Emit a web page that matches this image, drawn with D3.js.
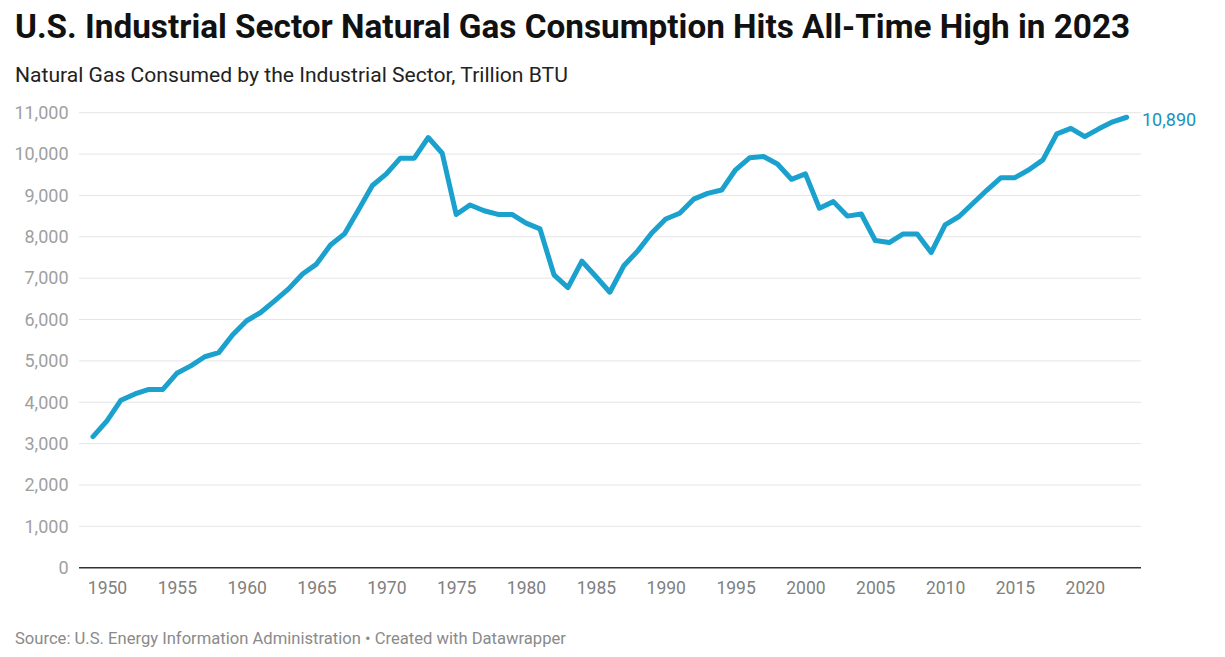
<!DOCTYPE html>
<html>
<head>
<meta charset="utf-8">
<script src="https://cdn.jsdelivr.net/npm/d3@7"></script>
<style>
  body { margin: 0; background: #fff; font-family: Roboto, "Noto Sans", sans-serif; }
</style>
</head>
<body>
<div id="chart"></div>
<script>
// natural gas consumed by the industrial sector, trillion btu
const years = d3.range(1949, 2024);
const values = [
  3170, 3550, 4050, 4200, 4310, 4310, 4700, 4880, 5100, 5200,
  5630, 5970, 6170, 6450, 6740, 7100, 7340, 7800, 8070, 8650,
  9240, 9520, 9900, 9900, 10400, 10020, 8540, 8770, 8630, 8540,
  8540, 8330, 8190, 7080, 6770, 7410, 7040, 6660, 7300, 7660,
  8090, 8430, 8570, 8910, 9050, 9130, 9620, 9910, 9940, 9760,
  9390, 9520, 8690, 8850, 8500, 8550, 7910, 7860, 8070, 8070,
  7620, 8290, 8490, 8810, 9130, 9430, 9430, 9620, 9860, 10490,
  10620, 10420, 10610, 10780, 10890
];
const yTicks = [0, 1000, 2000, 3000, 4000, 5000, 6000, 7000, 8000, 9000, 10000, 11000];
const xTicks = [1950, 1955, 1960, 1965, 1970, 1975, 1980, 1985, 1990, 1995, 2000, 2005, 2010, 2015, 2020];

const width = 1225;
const height = 657;
const lineColor = "#1aa1cd";

const svg = d3.select("#chart").append("svg")
  .attr("width", width)
  .attr("height", height);

// titles
svg.append("text")
  .attr("x", 15).attr("y", 38)
  .style("font-size", "33.3px").style("font-weight", 700).style("fill", "#111")
  .text("U.S. Industrial Sector Natural Gas Consumption Hits All-Time High in 2023");

svg.append("text")
  .attr("x", 15).attr("y", 82)
  .style("font-size", "21.1px").style("fill", "#222")
  .text("Natural Gas Consumed by the Industrial Sector, Trillion BTU");

const x = d3.scaleLinear().domain([1949, 2023]).range([93, 1126.7]);
const y = d3.scaleLinear().domain([0, 11000]).range([567.7, 112.7]);

// gridlines
svg.append("g")
  .selectAll("line")
  .data(yTicks.filter(d => d > 0))
  .join("line")
  .attr("x1", 79).attr("x2", 1141)
  .attr("y1", d => y(d)).attr("y2", d => y(d))
  .attr("stroke", "#e5e5e5").attr("stroke-width", 1);

// y labels
svg.append("g")
  .selectAll("text")
  .data(yTicks)
  .join("text")
  .attr("x", 68.5)
  .attr("y", d => y(d) + 6.3)
  .attr("text-anchor", "end")
  .style("font-size", "18px").style("fill", "#a0a0a0")
  .text(d => d3.format(",")(d));

// baseline
svg.append("line")
  .attr("x1", 79).attr("x2", 1141)
  .attr("y1", y(0)).attr("y2", y(0))
  .attr("stroke", "#333").attr("stroke-width", 1.5);

// x axis labels
const xaxis = d3.axisBottom(x).tickValues(xTicks).tickFormat(d3.format("d")).tickSize(0).tickPadding(0);
const gx = svg.append("g")
  .attr("transform", "translate(0,594)")
  .call(xaxis);
gx.select(".domain").remove();
gx.selectAll("text")
  .attr("dy", 0)
  .style("font-family", "Roboto")
  .style("font-size", "17.5px")
  .style("fill", "#808080");

// line
svg.append("path")
  .datum(values)
  .attr("fill", "none")
  .attr("stroke", lineColor)
  .attr("stroke-width", 5)
  .attr("stroke-linejoin", "round")
  .attr("stroke-linecap", "round")
  .attr("d", d3.line().x((d, i) => x(years[i])).y(d => y(d)));

// end label
svg.append("text")
  .attr("x", 1142)
  .attr("y", y(values[values.length - 1]) + 9)
  .style("font-size", "18px").style("fill", "#1a92ba")
  .text(d3.format(",")(values[values.length - 1]));

// source
svg.append("text")
  .attr("x", 15).attr("y", 644)
  .style("font-size", "16.6px").style("fill", "#8a8a8a")
  .text("Source: U.S. Energy Information Administration \u2022 Created with Datawrapper");
</script>
</body>
</html>
